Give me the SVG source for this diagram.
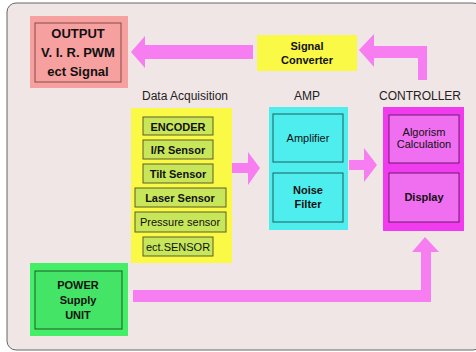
<svg xmlns="http://www.w3.org/2000/svg" width="476" height="352" viewBox="0 0 476 352">
<style>
text{font-family:"Liberation Sans",Arial,sans-serif;text-anchor:middle;fill:#111}
.b{font-weight:bold}
.lbl{font-size:12px;fill:#222}
.sen{fill:#c8e65a;stroke:#5e5e22;stroke-width:1}
.arr{fill:#f77ef0}
</style>
<rect x="0" y="0" width="476" height="352" fill="#ffffff"/>
<rect x="7" y="3" width="475" height="347" rx="9" fill="#f1e6e6" stroke="#666" stroke-width="1"/>
<g id="connectors">
<polygon class="arr" points="253,45 145,45 145,36 131,52 145,68 145,59 253,59"/>
<polygon class="arr" points="427,80 427,46 374,46 374,34 359,50 374,67 374,58 418,58 418,80"/>
<polygon class="arr" points="232,163 248,163 248,152 260,168 248,185 248,173 232,173"/>
<polygon class="arr" points="349,160 364,160 364,148 377,165 364,182 364,170 349,170"/>
<polygon class="arr" points="133,290 421,290 421,252 412,252 425,237 439,252 431,252 431,302 133,302"/>
</g>
<g id="output">
<rect x="30" y="16" width="98" height="72" fill="#f7a0a0"/>
<rect x="35" y="23" width="86" height="59" fill="#f7a0a0" stroke="#8a4a4a"/>
<text class="b" x="78" y="38" font-size="13">OUTPUT</text>
<text class="b" x="78" y="57" font-size="13">V. I. R. PWM</text>
<text class="b" x="78" y="76" font-size="13">ect Signal</text>
</g>
<g id="signal-converter">
<rect x="257" y="35" width="100" height="36" fill="#fafa46"/>
<text class="b" x="307" y="50" font-size="11">Signal</text>
<text class="b" x="307" y="64" font-size="11">Converter</text>
</g>
<g id="labels">
<text class="lbl" x="185" y="100">Data Acquisition</text>
<text class="lbl" x="307" y="100">AMP</text>
<text class="lbl" x="420" y="100">CONTROLLER</text>
</g>
<g id="data-acquisition">
<rect x="131" y="108" width="101" height="155" fill="#fafa46"/>
<rect class="sen" x="143" y="117" width="70" height="18"/>
<text class="b" x="178" y="131" font-size="11">ENCODER</text>
<rect class="sen" x="143" y="140" width="70" height="19"/>
<text class="b" x="178" y="154" font-size="11">I/R Sensor</text>
<rect class="sen" x="143" y="164" width="70" height="19"/>
<text class="b" x="178" y="178" font-size="11">Tilt Sensor</text>
<rect class="sen" x="135" y="188" width="91" height="19"/>
<text class="b" x="180" y="202" font-size="11">Laser Sensor</text>
<rect class="sen" x="135" y="212" width="91" height="20"/>
<text x="180" y="226" font-size="11">Pressure sensor</text>
<rect class="sen" x="143" y="237" width="70" height="19"/>
<text x="178" y="251" font-size="11">ect.SENSOR</text>
</g>
<g id="amp">
<rect x="269" y="107" width="79" height="123" fill="#4eeeee"/>
<rect x="273" y="114" width="70" height="48" fill="#4eeeee" stroke="#1d5e5e"/>
<text x="308" y="142" font-size="11">Amplifier</text>
<rect x="273" y="173" width="70" height="49" fill="#4eeeee" stroke="#1d5e5e"/>
<text class="b" x="308" y="194" font-size="11">Noise</text>
<text class="b" x="308" y="208" font-size="11">Filter</text>
</g>
<g id="controller">
<rect x="383" y="107" width="81" height="124" fill="#f03cee"/>
<rect x="389" y="115" width="70" height="48" fill="#f06ef0" stroke="#6e1a6e"/>
<text x="424" y="136" font-size="11">Algorism</text>
<text x="424" y="148" font-size="11">Calculation</text>
<rect x="389" y="173" width="70" height="49" fill="#f06ef0" stroke="#6e1a6e"/>
<text class="b" x="424" y="201" font-size="11">Display</text>
</g>
<g id="power">
<rect x="30" y="263" width="98" height="73" fill="#44ee66"/>
<rect x="35" y="271" width="87" height="58" fill="#44e466" stroke="#1f5a2a"/>
<text class="b" x="78" y="289" font-size="11">POWER</text>
<text class="b" x="78" y="304" font-size="11">Supply</text>
<text class="b" x="78" y="319" font-size="11">UNIT</text>
</g>
</svg>
